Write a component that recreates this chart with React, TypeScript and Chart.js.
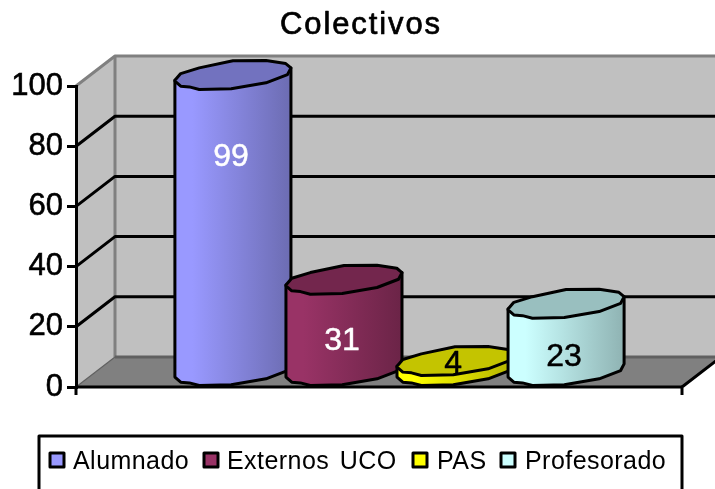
import React, { useEffect, useRef } from "react";
import { Chart, registerables } from "chart.js";

Chart.register(...registerables);

const titleText = "Colectivos";
const categories = ["Colectivos"];
const seriesNames = ["Alumnado", "Externos UCO", "PAS", "Profesorado"];
const seriesValues = [99, 31, 4, 23];
const yTicks = [0, 20, 40, 60, 80, 100];
// height on the value axis at which each value label sits in the picture
const labelAnchors = [77, 16, 8.3, 10.6];
const labelColors = ["#FFFFFF", "#FFFFFF", "#000000", "#000000"];
const lightColors = ["#9999FF", "#993366", "#FFFF00", "#CCFFFF"];
const darkColors = ["#6C6CB2", "#6B2447", "#B3B300", "#8FB3B3"];
const topColors = ["#7272BF", "#73264D", "#C4C400", "#99BFBF"];

const FONT = '"Liberation Sans", Arial, sans-serif';
const DX = 39;
const DY = 30;
const WALL = "#C0C0C0";
const FLOOR = "#808080";
const RY = 14.5;
const CY = 14.5;
const LW = 3;

// Normalised outline of the squashed cylinder cap, clockwise from the left.
const cap: [number, number][] = [
  [-1, 0.36], [-0.9, -0.1], [-0.58, -0.49], [0, -0.98], [0.57, -1], [0.91, -0.79], [1, -0.49],
  [0.94, -0.03], [0.57, 0.54], [-0.03, 0.95], [-0.58, 1], [-0.75, 0.82], [-0.9, 0.77], [-1, 0.42],
];

function poly(ctx: CanvasRenderingContext2D, pts: number[][], close = true) {
  ctx.beginPath();
  pts.forEach((p, i) => (i ? ctx.lineTo(p[0], p[1]) : ctx.moveTo(p[0], p[1])));
  if (close) ctx.closePath();
}

const scenePlugin = {
  id: "scene",
  beforeDraw(chart: any) {
    const { ctx, chartArea: a, scales } = chart;
    const { left: l, right: r, top: t, bottom: b } = a;
    ctx.save();
    ctx.fillStyle = "#FFFFFF";
    ctx.fillRect(0, 0, chart.width, chart.height);
    ctx.lineJoin = "round";
    ctx.fillStyle = WALL;
    poly(ctx, [[l, t], [l + DX, t - DY], [r + DX, t - DY], [r + DX, b - DY], [l + DX, b - DY], [l, b]]);
    ctx.fill();
    ctx.fillStyle = FLOOR;
    poly(ctx, [[l, b], [l + DX, b - DY], [r + DX, b - DY], [r, b]]);
    ctx.fill();
    ctx.strokeStyle = FLOOR;
    ctx.lineWidth = LW;
    poly(ctx, [[l, t], [l + DX, t - DY], [r + DX, t - DY]], false);
    ctx.stroke();
    poly(ctx, [[l + DX, t - DY], [l + DX, b - DY]], false);
    ctx.stroke();
    ctx.strokeStyle = "#606060";
    poly(ctx, [[l + DX, b - DY], [r + DX, b - DY]], false);
    ctx.stroke();
    ctx.lineWidth = 1.2;
    ctx.strokeStyle = "#606060";
    poly(ctx, [[l, b], [l + DX, b - DY]], false);
    ctx.stroke();
    ctx.strokeStyle = "#000000";
    ctx.lineWidth = LW;
    scales.y.ticks.forEach((tick: any) => {
      if (tick.value === 0 || tick.value === 100) return;
      const y = scales.y.getPixelForValue(tick.value);
      poly(ctx, [[l, y], [l + DX, y - DY], [r + DX, y - DY]], false);
      ctx.stroke();
    });
    ctx.restore();
  },
  afterDatasetsDraw(chart: any) {
    const { ctx, chartArea: a, scales } = chart;
    const { left: l, right: r, bottom: b } = a;
    ctx.save();
    ctx.lineJoin = "round";
    // x axis
    ctx.strokeStyle = "#000000";
    ctx.lineWidth = LW;
    poly(ctx, [[l, b], [r, b]], false);
    ctx.stroke();
    poly(ctx, [[r + DX, b - DY], [r, b], [r, b + 8]], false);
    ctx.stroke();
    poly(ctx, [[l, b], [l, b + 8]], false);
    ctx.stroke();

    // cylinders
    chart.data.datasets.forEach((_: any, i: number) => {
      const el = chart.getDatasetMeta(i).data[0];
      const cx = el.x + DX / 2 + 1;
      const hw = el.width / 2;
      const topY = el.y - CY + 0.5;
      const baseY = el.base - CY;
      const at = (p: number[], y: number) => [cx + p[0] * hw, y + p[1] * RY];
      const g = ctx.createLinearGradient(cx - hw, 0, cx + hw, 0);
      g.addColorStop(0, lightColors[i]);
      g.addColorStop(0.15, lightColors[i]);
      g.addColorStop(1, darkColors[i]);
      const body = [at(cap[0], topY), at(cap[13], baseY)];
      for (let k = 12; k >= 6; k--) body.push(at(cap[k], baseY));
      body.push(at(cap[6], topY));
      ctx.fillStyle = g;
      ctx.strokeStyle = "#000000";
      ctx.lineWidth = LW;
      poly(ctx, body);
      ctx.fill();
      ctx.stroke();
      ctx.fillStyle = topColors[i];
      poly(ctx, cap.map((p) => at(p, topY)));
      ctx.fill();
      ctx.stroke();
    });

    // value labels
    ctx.font = `32px ${FONT}`;
    ctx.textAlign = "center";
    ctx.textBaseline = "middle";
    chart.data.datasets.forEach((ds: any, i: number) => {
      const el = chart.getDatasetMeta(i).data[0];
      const x = el.x + DX / 2 - 1;
      const y = scales.y.getPixelForValue(labelAnchors[i]) + 2;
      ctx.fillStyle = labelColors[i];
      ctx.strokeStyle = labelColors[i];
      ctx.lineWidth = 0.5;
      ctx.fillText(String(ds.data[0]), x, y);
      ctx.strokeText(String(ds.data[0]), x, y);
    });

    // title
    ctx.fillStyle = "#000000";
    ctx.font = `31px ${FONT}`;
    (ctx as any).letterSpacing = "1.9px";
    ctx.lineWidth = 0.7;
    ctx.strokeStyle = "#000000";
    ctx.fillText(titleText, 361, 25);
    ctx.strokeText(titleText, 361, 25);

    // legend
    ctx.lineWidth = LW;
    ctx.strokeStyle = "#000000";
    poly(ctx, [[39, 500], [39, 436], [682, 436], [682, 500]], false);
    ctx.stroke();
    const boxX = [50, 204, 413, 501];
    const textX = [73, 227, 437, 525];
    ctx.font = `25px ${FONT}`;
    (ctx as any).letterSpacing = "0.45px";
    (ctx as any).wordSpacing = "3px";
    ctx.textAlign = "left";
    chart.data.datasets.forEach((ds: any, i: number) => {
      ctx.fillStyle = lightColors[i];
      ctx.fillRect(boxX[i], 453, 14, 14);
      ctx.strokeRect(boxX[i], 453, 14, 14);
      ctx.fillStyle = "#000000";
      ctx.fillText(ds.label, textX[i], 462);
    });
    ctx.restore();
  },
};

export default function App() {
  const ref = useRef<HTMLCanvasElement>(null);
  useEffect(() => {
    const chart = new Chart(ref.current as HTMLCanvasElement, {
      type: "bar",
      data: {
        labels: categories,
        datasets: seriesNames.map((name, i) => ({
          label: name,
          data: [seriesValues[i]],
          backgroundColor: "rgba(0,0,0,0)",
          borderWidth: 0,
          categoryPercentage: 0.733,
          barPercentage: 1.045,
        })),
      },
      options: {
        animation: false,
        responsive: false,
        layout: { padding: { left: 0, right: 33, top: 86, bottom: 102 } },
        plugins: {
          legend: { display: false },
          title: { display: false },
          tooltip: { enabled: false },
        },
        scales: {
          x: { display: false },
          y: {
            min: 0,
            max: 100,
            afterFit: (s: any) => { s.width = 76; },
            afterBuildTicks: (s: any) => { s.ticks = yTicks.map((value) => ({ value })); },
            border: { display: true, color: "#000000", width: LW },
            grid: { drawOnChartArea: false, color: "#000000", lineWidth: LW, tickLength: 9 },
            ticks: {
              color: "#000000",
              font: { family: FONT, size: 31 },
              padding: 4,
              textStrokeColor: "#000000",
              textStrokeWidth: 0.6,
            },
          },
        },
      },
      plugins: [scenePlugin],
    } as any);
    return () => chart.destroy();
  }, []);
  return (
    <canvas
      ref={ref}
      width={715}
      height={489}
      style={{ position: "absolute", left: 0, top: 0, width: 715, height: 489 }}
    />
  );
}
